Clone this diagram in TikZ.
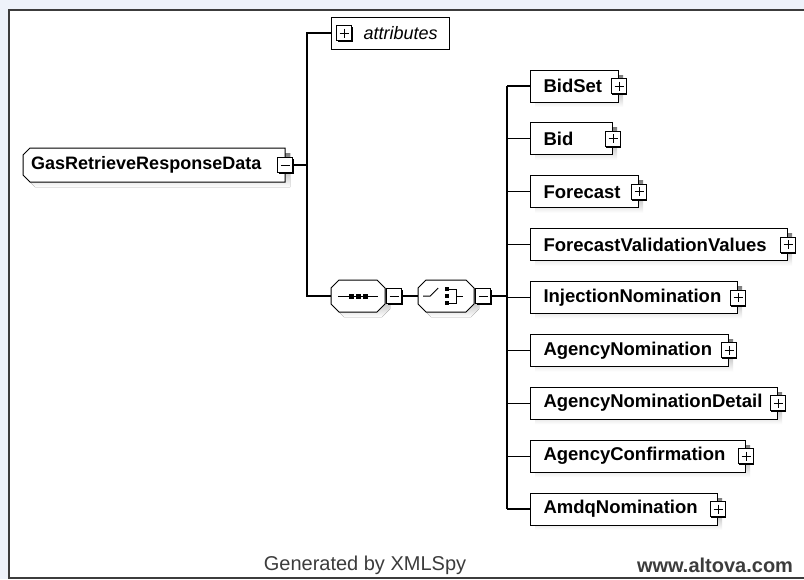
\documentclass[tikz,border=0pt]{standalone}
\usepackage{fontspec}
\setmainfont{Liberation Sans}
\definecolor{pagebg}{HTML}{EEF2FA}
\definecolor{shade}{HTML}{BEBEBE}
\definecolor{rim}{HTML}{3C3C3C}
% outlines with cut corners (y grows downwards)
\newcommand\rootoutline{(30,148) -- (285,148) -- (285,182) -- (30,182) -- (23,175) -- (23,155) -- cycle}
\newcommand\seqoutline{(339,280) -- (377,280) -- (385,288) -- (385,304) -- (377,312) -- (339,312) -- (331,304) -- (331,288) -- cycle}
\newcommand\choiceoutline{(426,280) -- (466,280) -- (474,288) -- (474,304) -- (466,312) -- (426,312) -- (418,304) -- (418,288) -- cycle}
\newcommand\btnshadow[2]{\fill (#1-5.9,#2-5.9) rectangle (#1+9.1,#2+9.1);}
\tikzset{
  elem/.style={draw, fill=white, line width=1pt, anchor=west, minimum height=32pt,
    inner xsep=13pt, align=left, font=\fontsize{18.5}{20}\selectfont\bfseries},
  btn/.style={draw, fill=white, line width=1pt, minimum size=15pt, inner sep=0pt},
  minusbtn/.style={btn, path picture={
    \draw[line width=1pt] ([xshift=3pt]path picture bounding box.west) -- ([xshift=-3pt]path picture bounding box.east);}},
  plusbtn/.style={btn, path picture={
    \draw[line width=1pt] ([xshift=3pt]path picture bounding box.west) -- ([xshift=-3pt]path picture bounding box.east)
                          ([yshift=-3pt]path picture bounding box.north) -- ([yshift=3pt]path picture bounding box.south);}},
  compositor/.style={minimum height=32pt, inner sep=0pt, anchor=west},
  wire/.style={line width=1.1pt}
}
\begin{document}
\begin{tikzpicture}[x=1pt,y=-1pt]
  \useasboundingbox (0,0) rectangle (804,579);
  \fill[pagebg] (0,0) rectangle (804,579);
  \draw[rim, line width=2pt, fill=white] (9,9.5) rectangle (812,577.5);

  % shapes with cut corners, shadow first
  \fill[shade, shift={(5,5)}] \rootoutline;
  \fill[shade, shift={(5,5)}] \seqoutline;
  \fill[shade, shift={(5,5)}] \choiceoutline;
  \draw[line width=1pt, fill=white] \rootoutline;
  \draw[line width=1pt, fill=white] \seqoutline;
  \draw[line width=1pt, fill=white] \choiceoutline;

  % root element
  \node[anchor=west, minimum width=262pt, minimum height=34pt, inner xsep=8pt, text width=246pt,
        align=left, font=\fontsize{18}{20}\selectfont\bfseries] (root) at (23,165) {GasRetrieveResponseData};
  \btnshadow{285}{165}
  \node[minusbtn] (rootbtn) at (root.east) {};

  % attributes
  \node[draw, line width=1pt, anchor=west, minimum height=32pt, inner xsep=0pt, text width=118pt,
        align=left, font=\fontsize{18}{20}\selectfont\itshape] (attr) at (331,33) {\hspace*{32pt}attributes};
  \btnshadow{344}{33}
  \node[plusbtn] (attrbtn) at (344,33) {};

  % sequence and choice
  \node[compositor, minimum width=54pt] (seq) at (331,296) {};
  \node[compositor, minimum width=56pt] (choice) at (418,296) {};
  \btnshadow{394}{296}
  \node[minusbtn] (seqbtn) at (394,296) {};
  \btnshadow{483}{296}
  \node[minusbtn] (choicebtn) at (483,296) {};

  \begin{scope}[shift={(seq.center)}]
    \draw[line width=1pt] (-20,0) -- (20,0);
    \foreach \d in {-7,0,7}
      \fill (\d-2.5,-2.5) rectangle (\d+2.5,2.5);
  \end{scope}
  \begin{scope}[shift={(choice.center)}, line width=1pt]
    \draw (-23,0) -- (-16,0) -- (-8,-8);
    \foreach \d in {-7,0,7}
      \fill (-1,\d-2) rectangle (3,\d+2);
    \draw (3,-7) -- (10,-7) -- (10,7) -- (3,7) (10,0) -- (17,0);
  \end{scope}

  % buses
  \coordinate (bus1) at (307,165);
  \coordinate (bus2) at (507,296);
  \draw[wire] (rootbtn.east) -- (bus1);
  \draw[wire] (attr.west) -- (attr.west -| bus1) |- (seq.west);
  \draw[wire] (seqbtn.east) -- (choice.west);
  \draw[wire] (choicebtn.east) -- (bus2);

  % child elements
  \foreach \name/\lbl/\w [count=\i from 0] in {bidset/BidSet/88, bid/Bid/82, forecast/Forecast/108,
      fvv/ForecastValidationValues/257, injnom/InjectionNomination/207, agnom/AgencyNomination/198,
      agnomdet/AgencyNominationDetail/247, agconf/AgencyConfirmation/215, amdq/AmdqNomination/187}{
    \pgfmathsetmacro\yy{86+52.875*\i}
    \fill[shade] (535,\yy-11) rectangle (535+\w,\yy+21);
    \node[elem, text width=\w pt-26pt] (\name) at (530,\yy) {\lbl};
    \btnshadow{530+\w}{\yy}
    \node[plusbtn] (\name btn) at (\name.east) {};
    \draw[wire] (\name.west) -- (\name.west -| bus2);
  }
  \draw[wire] (bidset.west -| bus2) -- (amdq.west -| bus2);

  % footer
  \node[rim, font=\fontsize{20}{22}\selectfont] (gen) at (365,565) {Generated by XMLSpy};
  \node[rim, font=\fontsize{20}{22}\selectfont\bfseries] (url) at (715,565) {www.altova.com};
\end{tikzpicture}
\end{document}
